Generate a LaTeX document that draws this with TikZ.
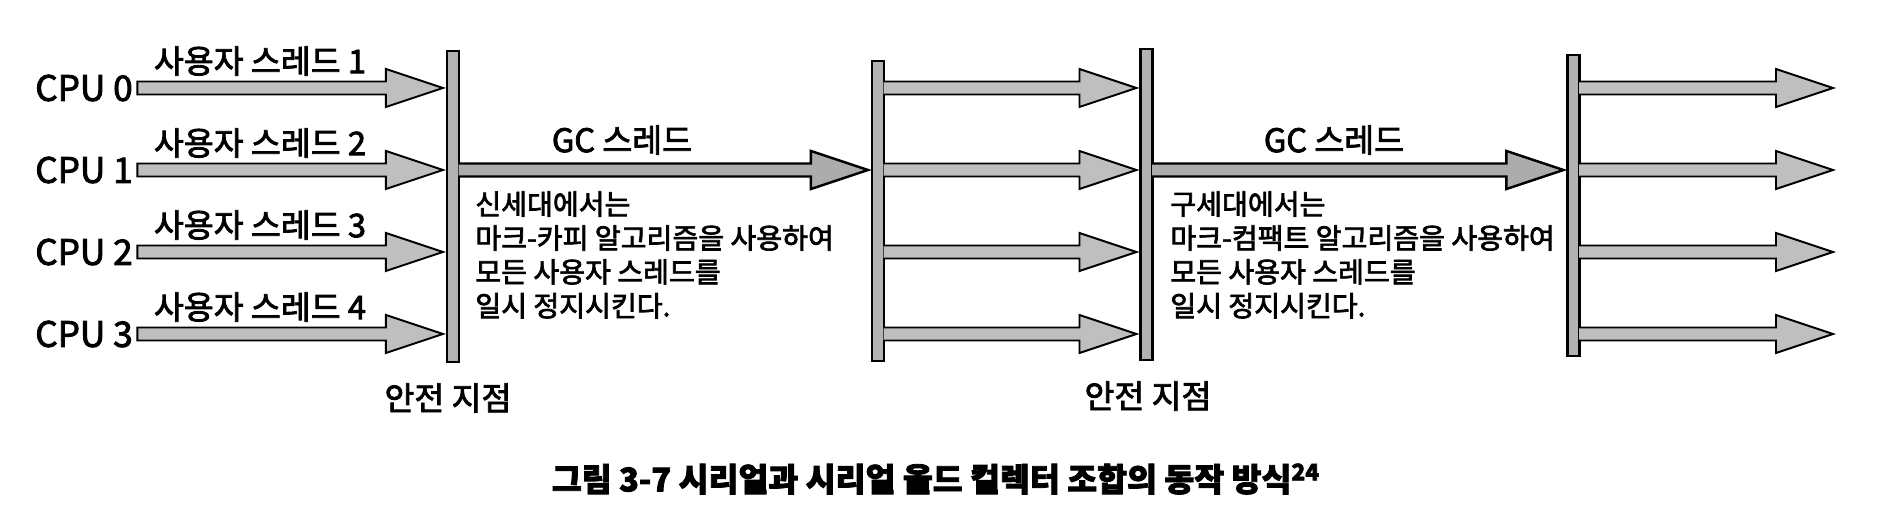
\documentclass[tikz,border=0pt]{standalone}
\usepackage{fontspec}
\setmainfont{Noto Sans CJK KR}[FakeBold=2.5]
\usetikzlibrary{calc}
\newcommand{\fatarr}[4][]{\draw[arr,#1] let \p1=(#2), \p2=(#3) in (\x1-0.03cm,\y1+0.13cm) -- (\x2-1.2cm,\y1+0.13cm) -- (\x2-1.2cm,\y1+0.38cm) -- (\x2-0.06cm,\y1) -- (\x2-1.2cm,\y1-0.38cm) -- (\x2-1.2cm,\y1-0.13cm) -- (\x1-0.03cm,\y1-0.13cm) #4;}

\begin{document}
\begin{tikzpicture}[x=0.02cm, y=-0.02cm, lbl/.style={font=\fontsize{18.5}{22}\selectfont}, cpu/.style={font=\fontsize{20}{24}\selectfont}, body/.style={font=\fontsize{16}{19.3}\selectfont, align=left, anchor=north west, inner sep=0pt}, bar/.style={draw, line width=1.2pt, fill=gray!60, minimum width=0.24cm, inner sep=0pt}, arr/.style={draw, line width=1.1pt, line join=miter, fill=gray!50}, gc/.style={fill=gray!65, line width=1.4pt}]
\useasboundingbox (0,0) rectangle (1890,516);
\node[bar, minimum height=6.22cm] (bar1) at (453,206.5) {}; \node[bar, minimum height=6cm] (bar2) at (878,211) {}; \node[bar, minimum height=6.22cm] (bar3) at (1146.5,204.5) {}; \node[bar, minimum height=6.02cm] (bar4) at (1573.5,205.5) {};
\coordinate (rend) at (1836,170);
\foreach \i [evaluate=\i as \y using 88+82*\i, evaluate=\i as \n using int(\i+1)] in {0,...,3}{
  \node[cpu] (cpu\i) at (84,\y) {CPU \i}; \node[lbl] (ut\i) at (260,\y-27) {사용자 스레드 \n};
  \fatarr{cpu\i.east}{bar1.west}{-- cycle}; \fatarr{bar2.east |- cpu\i}{bar3.west}{}; \fatarr{bar4.east |- cpu\i}{rend}{};
}
\fatarr[gc]{bar1.east |- cpu1}{bar2.west}{}; \fatarr[gc]{bar3.east |- cpu1}{bar4.west}{};
\node[lbl] (gc1) at (622,140) {GC 스레드}; \node[lbl] (gc2) at (1334,140) {GC 스레드};
\node[body] (yg) at (475,191) {신세대에서는\\마크-카피 알고리즘을 사용하여\\모든 사용자 스레드를\\일시 정지시킨다.};
\node[body] (og) at (1170,191) {구세대에서는\\마크-컴팩트 알고리즘을 사용하여\\모든 사용자 스레드를\\일시 정지시킨다.};
\node[lbl] (sp1) at (448,398) {안전 지점}; \node[lbl] (sp2) at (1148,396) {안전 지점};
\node[font=\bfseries\fontsize{18.5}{22}\selectfont] (cap) at (936,479) {그림 3-7 시리얼과 시리얼 올드 컬렉터 조합의 동작 방식\textsuperscript{24}};
\end{tikzpicture}
\end{document}
